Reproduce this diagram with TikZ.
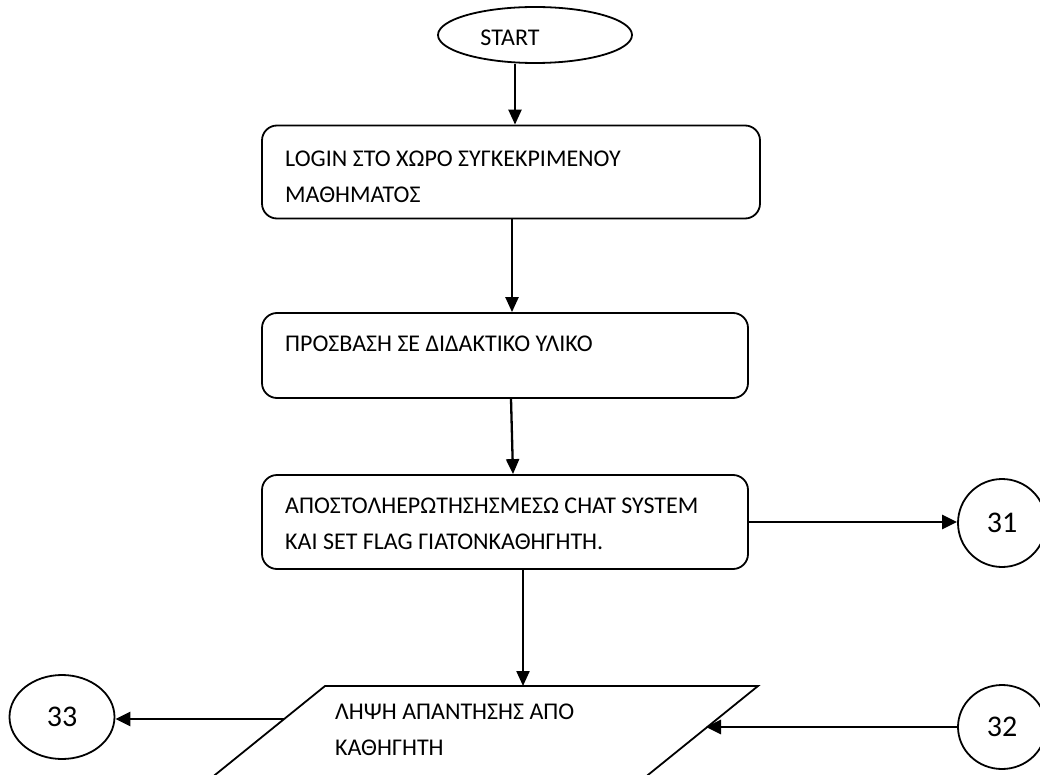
\documentclass[tikz,border=0pt]{standalone}
\usepackage{fontspec}
\setmainfont{Carlito}
\usetikzlibrary{shapes.geometric,arrows.meta}

\tikzset{
  outline/.style={draw=black, line width=1.8pt},
  procbox/.style={outline, rounded corners=15pt, inner sep=0pt},
  connector/.style={outline, ellipse, inner sep=0pt, font=\fontsize{30}{32}\selectfont},
  boxtext/.style={anchor=north west, inner sep=0pt, align=left,
                  font=\fontsize{24}{36}\selectfont},
  flow/.style={line width=2.3pt, -{Triangle[length=15pt,width=13pt]}},
  sideflow/.style={line width=2.8pt, -{Triangle[length=15pt,width=14pt]}}
}

\begin{document}
\begin{tikzpicture}[x=1pt,y=-1pt]
  \useasboundingbox (0,0) rectangle (1040,775);
  \clip (0,0) rectangle (1040,775);

  % terminal
  \node[outline, ellipse, minimum width=194pt, minimum height=56pt, inner sep=0pt] (start) at (535,35) {};
  \node[font=\fontsize{24}{28}\selectfont, inner sep=0pt] (startlbl) at (510,38) {START};

  % process boxes
  \node[procbox, minimum width=498pt, minimum height=93pt] (box1) at (511,172) {};
  \node[boxtext] (box1txt) at (285,151) {LOGIN ΣΤΟ ΧΩΡΟ ΣΥΓΚΕΚΡΙΜΕΝΟΥ\\ΜΑΘΗΜΑΤΟΣ};

  \node[procbox, minimum width=486pt, minimum height=85pt] (box2) at (505,355.5) {};
  \node[boxtext] (box2txt) at (285,336) {ΠΡΟΣΒΑΣΗ ΣΕ ΔΙΔΑΚΤΙΚΟ ΥΛΙΚΟ};

  \node[procbox, minimum width=486pt, minimum height=94pt] (box3) at (505,522) {};
  \node[boxtext] (box3txt) at (285,498) {ΑΠΟΣΤΟΛΗΕΡΩΤΗΣΗΣΜΕΣΩ CHAT SYSTEM\\ΚΑΙ SET FLAG ΓΙΑΤΟΝΚΑΘΗΓΗΤΗ.};

  % input/output parallelogram (runs past the lower edge)
  \coordinate (pTL) at (325,686);
  \coordinate (pTR) at (758,686);
  \coordinate (pBR) at (617,800);
  \coordinate (pBL) at (184,800);
  \draw[outline, line join=miter] (pTL) -- (pTR) -- (pBR) -- (pBL) -- cycle;
  \node[boxtext] (paratxt) at (335,704) {ΛΗΨΗ ΑΠΑΝΤΗΣΗΣ ΑΠΟ\\ΚΑΘΗΓΗΤΗ};
  \coordinate (paraIn) at (523,686);
  \coordinate (paraLeft) at (284,719);
  \coordinate (paraRight) at (706,727);

  % off-page connectors
  \node[connector, minimum width=88pt, minimum height=88pt] (c31) at (1002,523) {31};
  \node[connector, minimum width=88pt, minimum height=84pt] (c32) at (1002,727) {32};
  \node[connector, minimum width=105pt, minimum height=84pt] (c33) at (62,717) {33};

  % flow lines
  \draw[flow] ([xshift=-20pt]start.south) -- ([xshift=4pt]box1.north);
  \draw[flow] ([xshift=1pt]box1.south) -- ([xshift=1pt]box1.south |- box2.north);
  \draw[flow] ([xshift=6pt]box2.south) -- ([xshift=8pt]box3.north);
  \draw[flow] (box3.south -| paraIn) -- (paraIn);
  \draw[sideflow] (box3.east) -- (box3.east -| c31.west);
  \draw[sideflow] (paraLeft) -- (paraLeft -| c33.east);
  \draw[sideflow] (c32.west) -- (paraRight);
\end{tikzpicture}
\end{document}
